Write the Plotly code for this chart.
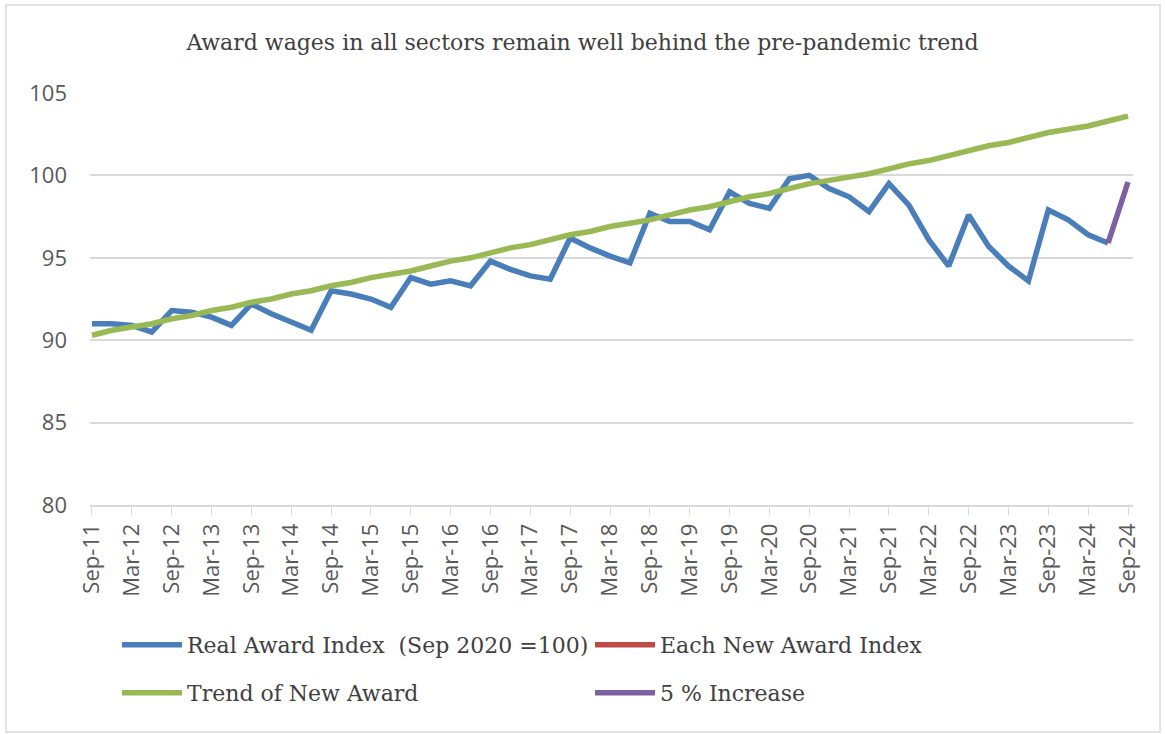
import plotly.graph_objects as go

quarters = ["Sep-11","Dec-11","Mar-12","Jun-12","Sep-12","Dec-12","Mar-13","Jun-13",
            "Sep-13","Dec-13","Mar-14","Jun-14","Sep-14","Dec-14","Mar-15","Jun-15",
            "Sep-15","Dec-15","Mar-16","Jun-16","Sep-16","Dec-16","Mar-17","Jun-17",
            "Sep-17","Dec-17","Mar-18","Jun-18","Sep-18","Dec-18","Mar-19","Jun-19",
            "Sep-19","Dec-19","Mar-20","Jun-20","Sep-20","Dec-20","Mar-21","Jun-21",
            "Sep-21","Dec-21","Mar-22","Jun-22","Sep-22","Dec-22","Mar-23","Jun-23",
            "Sep-23","Dec-23","Mar-24","Jun-24","Sep-24"]

real_award = [91.0, 91.0, 90.9, 90.5, 91.8, 91.7, 91.4, 90.9,
              92.2, 91.6, 91.1, 90.6, 93.0, 92.8, 92.5, 92.0,
              93.8, 93.4, 93.6, 93.3, 94.8, 94.3, 93.9, 93.7,
              96.2, 95.6, 95.1, 94.7, 97.7, 97.2, 97.2, 96.7,
              99.0, 98.3, 98.0, 99.8, 100.0, 99.2, 98.7, 97.8,
              99.5, 98.2, 96.1, 94.5, 97.6, 95.7, 94.5, 93.6,
              97.9, 97.3, 96.4, 95.9, None]

each_new_award = [None] * 53

trend_new_award = [90.3, 90.6, 90.8, 91.0, 91.3, 91.5, 91.8, 92.0,
                   92.3, 92.5, 92.8, 93.0, 93.3, 93.5, 93.8, 94.0,
                   94.2, 94.5, 94.8, 95.0, 95.3, 95.6, 95.8, 96.1,
                   96.4, 96.6, 96.9, 97.1, 97.3, 97.6, 97.9, 98.1,
                   98.4, 98.7, 98.9, 99.2, 99.5, 99.7, 99.9, 100.1,
                   100.4, 100.7, 100.9, 101.2, 101.5, 101.8, 102.0, 102.3,
                   102.6, 102.8, 103.0, 103.3, 103.6]

increase_5pct = [None] * 51 + [95.9, 99.6]

tick_labels = quarters[::2]

x = list(range(len(quarters)))
tick_vals = x[::2]

LW = 5.5
fig = go.Figure()
fig.add_trace(go.Scatter(x=x, y=real_award, mode="lines", name="Real Award Index  (Sep 2020 =100)",
                         line=dict(color="#4A7EBB", width=LW), legend="legend"))
fig.add_trace(go.Scatter(x=x, y=each_new_award, mode="lines", name="Each New Award Index",
                         line=dict(color="#BE4B48", width=LW), legend="legend"))
fig.add_trace(go.Scatter(x=x, y=trend_new_award, mode="lines", name="Trend of New Award",
                         line=dict(color="#98B954", width=LW), legend="legend2"))
fig.add_trace(go.Scatter(x=x, y=increase_5pct, mode="lines", name="5 % Increase",
                         line=dict(color="#7D60A0", width=LW), legend="legend2"))

serif = "DejaVu Serif"
L, R, T, B = 90, 32, 93, 229
PW = 1165 - L - R
PH = 734 - T - B

legend_common = dict(orientation="h", xanchor="left", yanchor="middle",
                     entrywidth=398, entrywidthmode="pixels", itemwidth=60,
                     bgcolor="rgba(0,0,0,0)",
                     font=dict(family=serif, size=22, color="#404040"))

fig.update_layout(
    width=1165, height=734,
    margin=dict(l=L, r=R, t=T, b=B),
    paper_bgcolor="white", plot_bgcolor="white",
    title=dict(text="Award wages in all sectors remain well behind the pre-pandemic trend",
               x=0.5, xanchor="center", y=1 - 42/734, yanchor="middle",
               font=dict(family=serif, size=22, color="#404040")),
    xaxis=dict(range=[-0.1, 52.25], tickmode="array", tickvals=tick_vals, ticktext=tick_labels,
               tickangle=-90, showgrid=False, showline=True, linecolor="#D9D9D9", linewidth=1.5,
               ticks="outside", ticklen=8, tickcolor="#D9D9D9", automargin=False,
               tickfont=dict(family="Open Sans", size=22, color="#595959"), zeroline=False),
    yaxis=dict(range=[80, 105], tickvals=[80, 85, 90, 95, 100, 105],
               showgrid=True, gridcolor="#D9D9D9", gridwidth=1.5, zeroline=False,
               ticks="", ticklabelstandoff=22, automargin=False,
               tickfont=dict(family="Open Sans", size=22, color="#595959")),
    legend=dict(x=(117 - L) / PW, y=(505 - 645) / PH, **legend_common),
    legend2=dict(x=(117 - L) / PW, y=(505 - 693) / PH, **legend_common),
    shapes=[dict(type="rect", xref="paper", yref="paper",
                 x0=-(L - 6) / PW, x1=(1160 - L) / PW,
                 y0=-(732 - 505) / PH, y1=1 + (T - 5) / PH,
                 line=dict(color="#D9D9D9", width=1.5), fillcolor="rgba(0,0,0,0)", layer="below")],
)

fig.write_html("out.html", config={"displayModeBar": False},
               post_script="document.body.style.margin='0';document.body.style.padding='0';")
